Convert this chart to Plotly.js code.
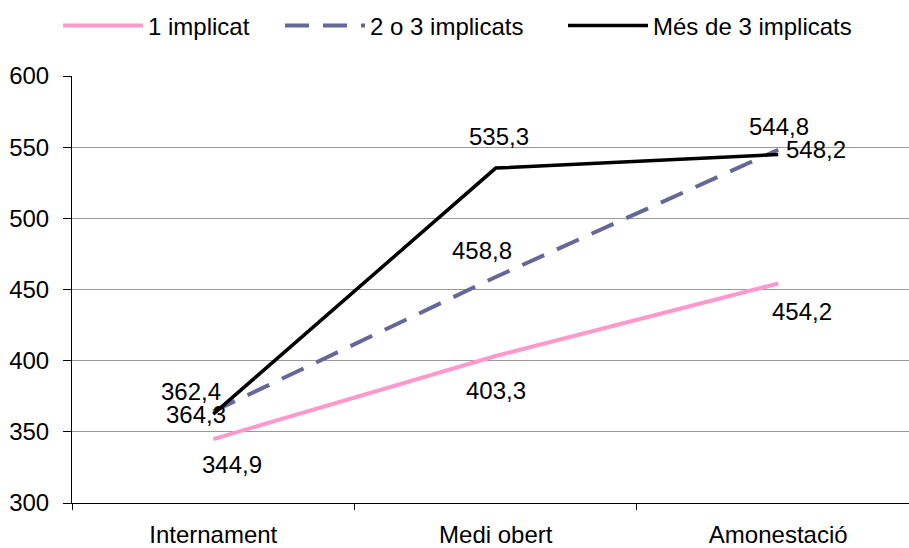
<!DOCTYPE html>
<html><head><meta charset="utf-8">
<script src="https://cdn.plot.ly/plotly-3.0.1.min.js"></script>
<style>body{margin:0;background:#fff}#chart{width:909px;height:548px}</style>
</head><body><div id="chart"></div>
<script>
var categories = ['Internament', 'Medi obert', 'Amonestació'];
var seriesNames = ['1 implicat', '2 o 3 implicats', 'Més de 3 implicats'];
var valsOne = [344.9, 403.3, 454.2];
var valsTwoThree = [364.3, 458.8, 548.2];
var valsMore = [362.4, 535.3, 544.8];

// label offsets (pixels) per point
var offOne = [[19,-25],[0,-35],[24,-28]];
var offTwoThree = [[-17,-3],[-14,26],[38,0]];
var offMore = [[-22,23],[3,32],[1,28]];
// legend entry text widths (px)
var legendWidths = [127, 188, 220];

var FONT = 'Liberation Sans, Arial, sans-serif';
var FS = 24;
var series = [
  {name: seriesNames[0], y: valsOne, off: offOne, line: {color:'#FF99CC', width:4}},
  {name: seriesNames[1], y: valsTwoThree, off: offTwoThree, line: {color:'#666699', width:4, dash:'24px,14px'}},
  {name: seriesNames[2], y: valsMore, off: offMore, line: {color:'#000000', width:3.5}}
];
var fmt = function(v){ return v.toFixed(1).replace('.', ','); };

var traces = series.map(function(s, k){
  return {type:'scatter', mode:'lines', x: categories, y: s.y, name: s.name, line: s.line,
    hoverinfo:'skip', legendwidth: legendWidths[k]};
});
var annotations = [];
series.forEach(function(s){
  s.y.forEach(function(v,i){
    annotations.push({x: categories[i], y: v, xref:'x', yref:'y', text: fmt(v), showarrow:false,
      xshift: s.off[i][0], yshift: s.off[i][1], font:{family:FONT, size:FS, color:'#000'}});
  });
});

var layout = {
  width: 909, height: 548,
  margin: {l:72, r:0, t:76, b:45},
  paper_bgcolor:'#fff', plot_bgcolor:'#fff',
  font: {family: FONT, size: FS, color:'#000'},
  showlegend: true,
  legend: {orientation:'h', x:-0.0167, xanchor:'left', y:1.17, yanchor:'top',
    font:{family:FONT, size:FS, color:'#000'}, itemwidth: 80, traceorder:'normal'},
  xaxis: {type:'category', categoryorder:'array', categoryarray: categories,
    range:[-0.5, 2.463], showline:true, linecolor:'#000', linewidth:1,
    ticks:'outside', tickson:'boundaries', ticklen:6, tickcolor:'#000', ticklabelstandoff: 10,
    showgrid:false, zeroline:false, tickfont:{family:FONT, size:FS}, fixedrange:true},
  yaxis: {range:[300,600], dtick:50, tick0:300, showline:true, linecolor:'#000', linewidth:1,
    ticks:'outside', ticklen:8, tickcolor:'#000', ticklabelstandoff: 9, showgrid:true, gridcolor:'#999', gridwidth:1,
    zeroline:false, tickfont:{family:FONT, size:FS}, fixedrange:true},
  annotations: annotations
};
Plotly.newPlot('chart', traces, layout, {displayModeBar:false, staticPlot:true});
</script>
</body></html>
